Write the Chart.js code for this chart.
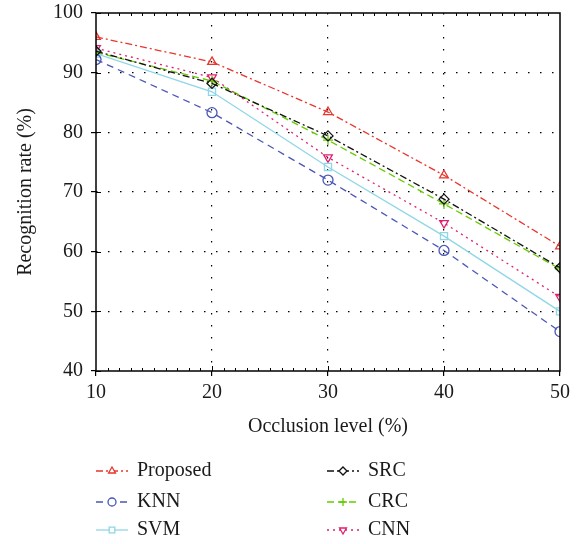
<!DOCTYPE html>
<html>
<head>
<meta charset="utf-8">
<script src="https://cdn.jsdelivr.net/npm/chart.js@4/dist/chart.umd.min.js"></script>
<style>
  html, body { margin: 0; padding: 0; background: #fff; }
  #wrap { width: 576px; height: 544px; position: relative; }
</style>
</head>
<body>
<div id="wrap"><canvas id="chart" width="576" height="544"></canvas></div>
<script>
// Dados do gráfico
const occlusion = [10, 20, 30, 40, 50];
const xTicks = [10, 20, 30, 40, 50];
const yTicks = [40, 50, 60, 70, 80, 90, 100];

const proposed = [96.0, 91.8, 83.4, 72.8, 60.9];
const src      = [93.6, 88.2, 79.4, 68.8, 57.3];
const knn      = [92.2, 83.3, 72.0, 60.2, 46.6];
const crc      = [93.4, 88.6, 78.7, 68.0, 57.1];
const svm      = [93.2, 86.8, 74.2, 62.6, 50.0];
const cnn      = [94.1, 89.2, 75.8, 64.8, 52.4];

const FONT = "'Liberation Serif', 'DejaVu Serif', serif";

function series(label, values, color, dash, pointStyle, rotation) {
    return {
        label: label,
        data: occlusion.map((x, i) => ({ x: x, y: values[i] })),
        borderColor: color,
        backgroundColor: color,
        borderWidth: 1.3,
        borderDash: dash,
        pointStyle: pointStyle,
        pointRotation: rotation || 0,
        pointRadius: 5,
        pointBorderWidth: 1.3,
        pointBorderColor: color,
        pointBackgroundColor: 'rgba(0,0,0,0)',
        tension: 0,
        fill: false
    };
}

// Moldura, marcas internas e marcas menores
const framePlugin = {
    id: 'frame',
    afterDraw(chart) {
        const { ctx, chartArea: a, scales } = chart;
        const xs = scales.x, ys = scales.y;
        ctx.save();
        ctx.strokeStyle = '#000';
        ctx.lineWidth = 1;
        ctx.setLineDash([]);
        ctx.beginPath();
        for (let v = 11; v < 50; v++) {
            if (v % 10 === 0) continue;
            const px = Math.round(xs.getPixelForValue(v)) + 0.5;
            ctx.moveTo(px, a.bottom); ctx.lineTo(px, a.bottom - 3);
            ctx.moveTo(px, a.top); ctx.lineTo(px, a.top + 3);
        }
        xTicks.slice(1, -1).forEach(v => {
            const px = Math.round(xs.getPixelForValue(v)) + 0.5;
            ctx.moveTo(px, a.bottom); ctx.lineTo(px, a.bottom - 5);
        });
        yTicks.forEach(v => {
            const py = Math.round(ys.getPixelForValue(v)) + 0.5;
            ctx.moveTo(a.left, py); ctx.lineTo(a.left + 5, py);
        });
        ctx.stroke();
        ctx.lineWidth = 1.5;
        ctx.strokeRect(a.left, a.top, a.right - a.left, a.bottom - a.top);
        ctx.restore();
    }
};

// Legenda em duas colunas
const legendPlugin = {
    id: 'twoColLegend',
    afterDraw(chart) {
        const ctx = chart.ctx;
        const cols = [{ line: 96, text: 137 }, { line: 327, text: 368 }];
        const rows = [471, 502, 530];
        chart.data.datasets.forEach((ds, i) => {
            const c = cols[i % 2];
            const y = rows[Math.floor(i / 2)];
            ctx.save();
            ctx.strokeStyle = ds.borderColor;
            ctx.lineWidth = ds.borderWidth;
            ctx.setLineDash(ds.borderDash || []);
            ctx.beginPath();
            ctx.moveTo(c.line, y);
            ctx.lineTo(c.line + 32, y);
            ctx.stroke();
            ctx.setLineDash([]);
            ctx.fillStyle = '#fff';
            ctx.strokeStyle = ds.borderColor;
            Chart.helpers.drawPoint(ctx, {
                pointStyle: ds.pointStyle,
                rotation: ds.pointRotation,
                radius: 4,
                borderWidth: ds.pointBorderWidth
            }, c.line + 16, y);
            ctx.fillStyle = '#1a1a1a';
            ctx.font = '20px ' + FONT;
            ctx.textBaseline = 'middle';
            ctx.fillText(ds.label, c.text, y);
            ctx.restore();
        });
    }
};

function gridColor(ends) {
    return c => (c.tick && ends.includes(c.tick.value)) ? 'rgba(0,0,0,0)' : '#000';
}

function initChart() {
    const ctx = document.getElementById('chart').getContext('2d');
    new Chart(ctx, {
        type: 'line',
        data: {
            datasets: [
                series('Proposed', proposed, '#e8362c', [7, 3, 2, 3], 'triangle'),
                series('SRC', src, '#111111', [7, 3, 2, 3], 'rectRot'),
                series('KNN', knn, '#4a56b8', [7, 5], 'circle'),
                series('CRC', crc, '#66cc00', [7, 4], 'cross'),
                series('SVM', svm, '#8fd6e6', [], 'rect'),
                series('CNN', cnn, '#e0206e', [2, 4], 'triangle', 180)
            ]
        },
        options: {
            responsive: false,
            animation: false,
            layout: { padding: { top: 13, right: 16, bottom: 104, left: 0 } },
            plugins: { legend: { display: false }, tooltip: { enabled: false } },
            scales: {
                x: {
                    type: 'linear',
                    min: 10, max: 50,
                    afterBuildTicks: s => { s.ticks = xTicks.map(v => ({ value: v })); },
                    afterFit: s => { s.height = 69; s.paddingLeft = 0; s.paddingRight = 0; },
                    grid: {
                        color: gridColor([10, 50]),
                        lineWidth: 1.2,
                        tickLength: 5,
                        tickColor: '#000',
                        tickBorderDash: []
                    },
                    border: { display: false, dash: [1.5, 10.5] },
                    ticks: { color: '#1a1a1a', padding: 5, font: { family: FONT, size: 20 } },
                    title: {
                        display: true,
                        text: 'Occlusion level (%)',
                        color: '#1a1a1a',
                        padding: { top: 0, bottom: 1 },
                        font: { family: FONT, size: 20 }
                    }
                },
                y: {
                    min: 40, max: 100,
                    afterBuildTicks: s => { s.ticks = yTicks.map(v => ({ value: v })); },
                    afterFit: s => { s.width = 96; s.paddingTop = 0; s.paddingBottom = 0; },
                    grid: {
                        color: gridColor([40, 100]),
                        lineWidth: 1.2,
                        tickLength: 5,
                        tickColor: '#000'
                    },
                    border: { display: false, dash: [1.5, 10.5] },
                    ticks: { color: '#1a1a1a', padding: 8, font: { family: FONT, size: 20 } },
                    title: {
                        display: true,
                        text: 'Recognition rate (%)',
                        color: '#1a1a1a',
                        padding: { top: 14, bottom: 0 },
                        font: { family: FONT, size: 20 }
                    }
                }
            }
        },
        plugins: [framePlugin, legendPlugin]
    });
}

document.addEventListener('DOMContentLoaded', initChart);
</script>
</body>
</html>
